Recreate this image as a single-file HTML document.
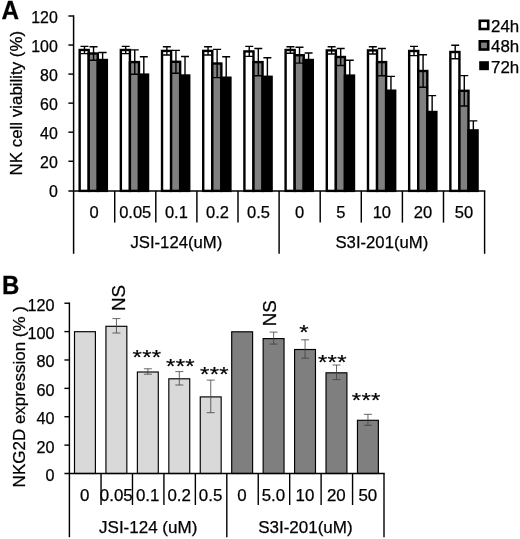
<!DOCTYPE html>
<html lang="en">
<head>
<meta charset="utf-8">
<title>Figure</title>
<style>
html,body{margin:0;padding:0;background:#fff;}
body{width:520px;height:539px;overflow:hidden;}
svg{display:block;}
svg text{font-family:"Liberation Sans", Arial, Helvetica, sans-serif;fill:#000;stroke:#000;stroke-width:0.25px;}
</style>
</head>
<body>
<svg width="520" height="539" viewBox="0 0 520 539">
<rect width="520" height="539" fill="#fff"/>
<g id="chartA">
<rect x="79.65" y="50.00" width="9.07" height="140.90" fill="#fff" stroke="#000" stroke-width="2.4"/>
<rect x="88.72" y="53.50" width="9.07" height="137.40" fill="#808080" stroke="#000" stroke-width="2.4"/>
<rect x="97.79" y="60.00" width="9.07" height="130.90" fill="#000" stroke="#000" stroke-width="2.4"/>
<path d="M84.48 46.40V53.60M80.48 46.40h8M80.48 53.60h8" stroke="#000" stroke-width="1.4" fill="none"/>
<path d="M93.55 46.80V60.20M89.55 46.80h8M89.55 60.20h8" stroke="#000" stroke-width="1.4" fill="none"/>
<path d="M102.62 52.50V67.50M98.62 52.50h8M98.62 67.50h8" stroke="#000" stroke-width="1.4" fill="none"/>
<rect x="120.84" y="50.00" width="9.07" height="140.90" fill="#fff" stroke="#000" stroke-width="2.4"/>
<rect x="129.91" y="62.10" width="9.07" height="128.80" fill="#808080" stroke="#000" stroke-width="2.4"/>
<rect x="138.98" y="74.60" width="9.07" height="116.30" fill="#000" stroke="#000" stroke-width="2.4"/>
<path d="M125.67 46.40V53.60M121.67 46.40h8M121.67 53.60h8" stroke="#000" stroke-width="1.4" fill="none"/>
<path d="M134.75 49.90V74.30M130.75 49.90h8M130.75 74.30h8" stroke="#000" stroke-width="1.4" fill="none"/>
<path d="M143.82 56.80V92.40M139.82 56.80h8M139.82 92.40h8" stroke="#000" stroke-width="1.4" fill="none"/>
<rect x="162.03" y="50.90" width="9.07" height="140.00" fill="#fff" stroke="#000" stroke-width="2.4"/>
<rect x="171.10" y="61.80" width="9.07" height="129.10" fill="#808080" stroke="#000" stroke-width="2.4"/>
<rect x="180.17" y="75.50" width="9.07" height="115.40" fill="#000" stroke="#000" stroke-width="2.4"/>
<path d="M166.87 46.80V55.00M162.87 46.80h8M162.87 55.00h8" stroke="#000" stroke-width="1.4" fill="none"/>
<path d="M175.94 50.40V73.20M171.94 50.40h8M171.94 73.20h8" stroke="#000" stroke-width="1.4" fill="none"/>
<path d="M185.01 56.50V94.50M181.01 56.50h8M181.01 94.50h8" stroke="#000" stroke-width="1.4" fill="none"/>
<rect x="203.22" y="50.90" width="9.07" height="140.00" fill="#fff" stroke="#000" stroke-width="2.4"/>
<rect x="212.29" y="63.50" width="9.07" height="127.40" fill="#808080" stroke="#000" stroke-width="2.4"/>
<rect x="221.36" y="77.70" width="9.07" height="113.20" fill="#000" stroke="#000" stroke-width="2.4"/>
<path d="M208.06 46.80V55.00M204.06 46.80h8M204.06 55.00h8" stroke="#000" stroke-width="1.4" fill="none"/>
<path d="M217.12 49.40V77.60M213.12 49.40h8M213.12 77.60h8" stroke="#000" stroke-width="1.4" fill="none"/>
<path d="M226.20 56.80V98.60M222.20 56.80h8M222.20 98.60h8" stroke="#000" stroke-width="1.4" fill="none"/>
<rect x="244.41" y="51.40" width="9.07" height="139.50" fill="#fff" stroke="#000" stroke-width="2.4"/>
<rect x="253.48" y="62.10" width="9.07" height="128.80" fill="#808080" stroke="#000" stroke-width="2.4"/>
<rect x="262.55" y="76.80" width="9.07" height="114.10" fill="#000" stroke="#000" stroke-width="2.4"/>
<path d="M249.25 46.40V56.40M245.25 46.40h8M245.25 56.40h8" stroke="#000" stroke-width="1.4" fill="none"/>
<path d="M258.31 48.50V75.70M254.31 48.50h8M254.31 75.70h8" stroke="#000" stroke-width="1.4" fill="none"/>
<path d="M267.39 57.70V95.90M263.39 57.70h8M263.39 95.90h8" stroke="#000" stroke-width="1.4" fill="none"/>
<rect x="285.60" y="50.00" width="9.07" height="140.90" fill="#fff" stroke="#000" stroke-width="2.4"/>
<rect x="294.67" y="55.20" width="9.07" height="135.70" fill="#808080" stroke="#000" stroke-width="2.4"/>
<rect x="303.74" y="60.00" width="9.07" height="130.90" fill="#000" stroke="#000" stroke-width="2.4"/>
<path d="M290.44 46.80V53.20M286.44 46.80h8M286.44 53.20h8" stroke="#000" stroke-width="1.4" fill="none"/>
<path d="M299.51 47.30V63.10M295.51 47.30h8M295.51 63.10h8" stroke="#000" stroke-width="1.4" fill="none"/>
<path d="M308.58 53.00V67.00M304.58 53.00h8M304.58 67.00h8" stroke="#000" stroke-width="1.4" fill="none"/>
<rect x="326.79" y="50.40" width="9.07" height="140.50" fill="#fff" stroke="#000" stroke-width="2.4"/>
<rect x="335.86" y="57.00" width="9.07" height="133.90" fill="#808080" stroke="#000" stroke-width="2.4"/>
<rect x="344.93" y="75.60" width="9.07" height="115.30" fill="#000" stroke="#000" stroke-width="2.4"/>
<path d="M331.62 46.80V54.00M327.62 46.80h8M327.62 54.00h8" stroke="#000" stroke-width="1.4" fill="none"/>
<path d="M340.69 48.50V65.50M336.69 48.50h8M336.69 65.50h8" stroke="#000" stroke-width="1.4" fill="none"/>
<path d="M349.76 60.30V90.90M345.76 60.30h8M345.76 90.90h8" stroke="#000" stroke-width="1.4" fill="none"/>
<rect x="367.98" y="50.40" width="9.07" height="140.50" fill="#fff" stroke="#000" stroke-width="2.4"/>
<rect x="377.05" y="62.10" width="9.07" height="128.80" fill="#808080" stroke="#000" stroke-width="2.4"/>
<rect x="386.12" y="90.70" width="9.07" height="100.20" fill="#000" stroke="#000" stroke-width="2.4"/>
<path d="M372.82 46.80V54.00M368.82 46.80h8M368.82 54.00h8" stroke="#000" stroke-width="1.4" fill="none"/>
<path d="M381.89 48.50V75.70M377.89 48.50h8M377.89 75.70h8" stroke="#000" stroke-width="1.4" fill="none"/>
<path d="M390.96 76.40V105.00M386.96 76.40h8M386.96 105.00h8" stroke="#000" stroke-width="1.4" fill="none"/>
<rect x="409.17" y="51.00" width="9.07" height="139.90" fill="#fff" stroke="#000" stroke-width="2.4"/>
<rect x="418.24" y="71.00" width="9.07" height="119.90" fill="#808080" stroke="#000" stroke-width="2.4"/>
<rect x="427.31" y="112.00" width="9.07" height="78.90" fill="#000" stroke="#000" stroke-width="2.4"/>
<path d="M414.00 46.40V55.60M410.00 46.40h8M410.00 55.60h8" stroke="#000" stroke-width="1.4" fill="none"/>
<path d="M423.07 54.70V87.30M419.07 54.70h8M419.07 87.30h8" stroke="#000" stroke-width="1.4" fill="none"/>
<path d="M432.14 95.60V128.40M428.14 95.60h8M428.14 128.40h8" stroke="#000" stroke-width="1.4" fill="none"/>
<rect x="450.36" y="52.00" width="9.07" height="138.90" fill="#fff" stroke="#000" stroke-width="2.4"/>
<rect x="459.43" y="90.80" width="9.07" height="100.10" fill="#808080" stroke="#000" stroke-width="2.4"/>
<rect x="468.50" y="130.40" width="9.07" height="60.50" fill="#000" stroke="#000" stroke-width="2.4"/>
<path d="M455.20 45.20V58.80M451.20 45.20h8M451.20 58.80h8" stroke="#000" stroke-width="1.4" fill="none"/>
<path d="M464.27 75.60V106.00M460.27 75.60h8M460.27 106.00h8" stroke="#000" stroke-width="1.4" fill="none"/>
<path d="M473.34 120.90V139.90M469.34 120.90h8M469.34 139.90h8" stroke="#000" stroke-width="1.4" fill="none"/>
<path d="M73.6 15.3V253.8" stroke="#000" stroke-width="1.5" fill="none"/>
<path d="M68.4 190.9H485.3" stroke="#000" stroke-width="1.5" fill="none"/>
<path d="M68.4 16.00H73.6" stroke="#000" stroke-width="1.45" fill="none"/>
<path d="M68.4 45.05H73.6" stroke="#000" stroke-width="1.45" fill="none"/>
<path d="M68.4 74.10H73.6" stroke="#000" stroke-width="1.45" fill="none"/>
<path d="M68.4 103.15H73.6" stroke="#000" stroke-width="1.45" fill="none"/>
<path d="M68.4 132.20H73.6" stroke="#000" stroke-width="1.45" fill="none"/>
<path d="M68.4 161.25H73.6" stroke="#000" stroke-width="1.45" fill="none"/>
<text x="57.8" y="22.70" text-anchor="end" font-size="15.9">120</text>
<text x="57.8" y="51.75" text-anchor="end" font-size="15.9">100</text>
<text x="57.8" y="80.80" text-anchor="end" font-size="15.9">80</text>
<text x="57.8" y="109.85" text-anchor="end" font-size="15.9">60</text>
<text x="57.8" y="138.90" text-anchor="end" font-size="15.9">40</text>
<text x="57.8" y="167.95" text-anchor="end" font-size="15.9">20</text>
<text x="57.8" y="197.00" text-anchor="end" font-size="15.9">0</text>
<path d="M114.70 190.9V222.6" stroke="#000" stroke-width="1.45" fill="none"/>
<path d="M155.80 190.9V222.6" stroke="#000" stroke-width="1.45" fill="none"/>
<path d="M196.90 190.9V222.6" stroke="#000" stroke-width="1.45" fill="none"/>
<path d="M238.00 190.9V222.6" stroke="#000" stroke-width="1.45" fill="none"/>
<path d="M279.10 190.9V253.8" stroke="#000" stroke-width="1.45" fill="none"/>
<path d="M320.20 190.9V222.6" stroke="#000" stroke-width="1.45" fill="none"/>
<path d="M361.30 190.9V222.6" stroke="#000" stroke-width="1.45" fill="none"/>
<path d="M402.40 190.9V222.6" stroke="#000" stroke-width="1.45" fill="none"/>
<path d="M443.50 190.9V222.6" stroke="#000" stroke-width="1.45" fill="none"/>
<path d="M484.60 190.9V253.8" stroke="#000" stroke-width="1.45" fill="none"/>
<text x="94.15" y="218.4" text-anchor="middle" font-size="16.5">0</text>
<text x="135.25" y="218.4" text-anchor="middle" font-size="16.5">0.05</text>
<text x="176.35" y="218.4" text-anchor="middle" font-size="16.5">0.1</text>
<text x="217.45" y="218.4" text-anchor="middle" font-size="16.5">0.2</text>
<text x="258.55" y="218.4" text-anchor="middle" font-size="16.5">0.5</text>
<text x="299.65" y="218.4" text-anchor="middle" font-size="16.5">0</text>
<text x="340.75" y="218.4" text-anchor="middle" font-size="16.5">5</text>
<text x="381.85" y="218.4" text-anchor="middle" font-size="16.5">10</text>
<text x="422.95" y="218.4" text-anchor="middle" font-size="16.5">20</text>
<text x="464.05" y="218.4" text-anchor="middle" font-size="16.5">50</text>
<text x="176.35" y="248" text-anchor="middle" font-size="16.7">JSI-124(uM)</text>
<text x="381.85" y="248" text-anchor="middle" font-size="16.7">S3I-201(uM)</text>
<text transform="translate(22.4 175.4) rotate(-90)" font-size="16.9">NK cell viability (%)</text>
<text transform="translate(1.45 19.1) scale(1 1.035)" font-size="24.3" font-weight="bold">A</text>
<rect x="479.8" y="20.80" width="8.4" height="8.2" fill="#fff" stroke="#000" stroke-width="2.6"/>
<text x="491" y="31.50" font-size="16.9">24h</text>
<rect x="479.8" y="41.30" width="8.4" height="8.2" fill="#808080" stroke="#000" stroke-width="2.6"/>
<text x="491" y="52.00" font-size="16.9">48h</text>
<rect x="479.2" y="61.20" width="9.7" height="9" fill="#000"/>
<text x="491" y="72.50" font-size="16.9">72h</text>
</g>
<g id="chartB">
<rect x="74.50" y="331.70" width="20.9" height="141.80" fill="#d9d9d9" stroke="#000" stroke-width="1.15"/>
<rect x="105.94" y="326.30" width="20.9" height="147.20" fill="#d9d9d9" stroke="#000" stroke-width="1.15"/>
<path d="M116.44 318.60V333.00M112.44 318.60h8M112.44 333.00h8" stroke="#404040" stroke-width="0.8" fill="none"/>
<text transform="translate(125.3 311) rotate(-90)" font-size="18.8">NS</text>
<rect x="137.38" y="372.00" width="20.9" height="101.50" fill="#d9d9d9" stroke="#000" stroke-width="1.15"/>
<path d="M147.88 368.80V374.20M143.88 368.80h8M143.88 374.20h8" stroke="#404040" stroke-width="0.8" fill="none"/>
<text transform="translate(147 364.30) scale(1 0.84)" text-anchor="middle" font-size="24" letter-spacing="0.25">***</text>
<rect x="168.82" y="378.80" width="20.9" height="94.70" fill="#d9d9d9" stroke="#000" stroke-width="1.15"/>
<path d="M179.32 371.60V385.00M175.32 371.60h8M175.32 385.00h8" stroke="#404040" stroke-width="0.8" fill="none"/>
<text transform="translate(180.5 373.30) scale(1 0.84)" text-anchor="middle" font-size="24" letter-spacing="0.25">***</text>
<rect x="200.26" y="396.90" width="20.9" height="76.60" fill="#d9d9d9" stroke="#000" stroke-width="1.15"/>
<path d="M210.76 380.10V412.70M206.76 380.10h8M206.76 412.70h8" stroke="#404040" stroke-width="0.8" fill="none"/>
<text transform="translate(214.5 381.30) scale(1 0.84)" text-anchor="middle" font-size="24" letter-spacing="0.25">***</text>
<rect x="231.70" y="331.80" width="20.9" height="141.70" fill="#7f7f7f" stroke="#000" stroke-width="1.15"/>
<rect x="263.14" y="338.60" width="20.9" height="134.90" fill="#7f7f7f" stroke="#000" stroke-width="1.15"/>
<path d="M273.64 332.10V344.10M269.64 332.10h8M269.64 344.10h8" stroke="#404040" stroke-width="0.8" fill="none"/>
<text transform="translate(276.2 326.2) rotate(-90)" font-size="18.8">NS</text>
<rect x="294.58" y="349.50" width="20.9" height="124.00" fill="#7f7f7f" stroke="#000" stroke-width="1.15"/>
<path d="M305.08 339.80V358.20M301.08 339.80h8M301.08 358.20h8" stroke="#404040" stroke-width="0.8" fill="none"/>
<text transform="translate(304.1 339.30) scale(1 0.84)" text-anchor="middle" font-size="24" letter-spacing="0.25">*</text>
<rect x="326.02" y="372.80" width="20.9" height="100.70" fill="#7f7f7f" stroke="#000" stroke-width="1.15"/>
<path d="M336.52 365.00V379.60M332.52 365.00h8M332.52 379.60h8" stroke="#404040" stroke-width="0.8" fill="none"/>
<text transform="translate(332.4 369.30) scale(1 0.84)" text-anchor="middle" font-size="24" letter-spacing="0.25">***</text>
<rect x="357.46" y="420.30" width="20.9" height="53.20" fill="#7f7f7f" stroke="#000" stroke-width="1.15"/>
<path d="M367.96 414.30V425.30M363.96 414.30h8M363.96 425.30h8" stroke="#404040" stroke-width="0.8" fill="none"/>
<text transform="translate(366.2 407.10) scale(1 0.84)" text-anchor="middle" font-size="24" letter-spacing="0.25">***</text>
<path d="M69.4 302.52V537.2" stroke="#000" stroke-width="1.45" fill="none"/>
<path d="M64.4 473.5H384.7" stroke="#000" stroke-width="1.45" fill="none"/>
<path d="M64.4 303.22H69.4" stroke="#000" stroke-width="1.4" fill="none"/>
<path d="M64.4 331.60H69.4" stroke="#000" stroke-width="1.4" fill="none"/>
<path d="M64.4 359.98H69.4" stroke="#000" stroke-width="1.4" fill="none"/>
<path d="M64.4 388.36H69.4" stroke="#000" stroke-width="1.4" fill="none"/>
<path d="M64.4 416.74H69.4" stroke="#000" stroke-width="1.4" fill="none"/>
<path d="M64.4 445.12H69.4" stroke="#000" stroke-width="1.4" fill="none"/>
<text x="54.6" y="310.62" text-anchor="end" font-size="16.2">120</text>
<text x="54.6" y="339.00" text-anchor="end" font-size="16.2">100</text>
<text x="54.6" y="367.38" text-anchor="end" font-size="16.2">80</text>
<text x="54.6" y="395.76" text-anchor="end" font-size="16.2">60</text>
<text x="54.6" y="424.14" text-anchor="end" font-size="16.2">40</text>
<text x="54.6" y="452.52" text-anchor="end" font-size="16.2">20</text>
<text x="54.6" y="480.90" text-anchor="end" font-size="16.2">0</text>
<path d="M101.04 473.5V505" stroke="#000" stroke-width="1.4" fill="none"/>
<path d="M132.48 473.5V505" stroke="#000" stroke-width="1.4" fill="none"/>
<path d="M163.92 473.5V505" stroke="#000" stroke-width="1.4" fill="none"/>
<path d="M195.36 473.5V505" stroke="#000" stroke-width="1.4" fill="none"/>
<path d="M226.80 473.5V537.2" stroke="#000" stroke-width="1.4" fill="none"/>
<path d="M258.24 473.5V505" stroke="#000" stroke-width="1.4" fill="none"/>
<path d="M289.68 473.5V505" stroke="#000" stroke-width="1.4" fill="none"/>
<path d="M321.12 473.5V505" stroke="#000" stroke-width="1.4" fill="none"/>
<path d="M352.56 473.5V505" stroke="#000" stroke-width="1.4" fill="none"/>
<path d="M384.00 473.5V537.2" stroke="#000" stroke-width="1.4" fill="none"/>
<text x="84.82" y="500.5" text-anchor="middle" font-size="16.9">0</text>
<text x="116.26" y="500.5" text-anchor="middle" font-size="16.9">0.05</text>
<text x="147.70" y="500.5" text-anchor="middle" font-size="16.9">0.1</text>
<text x="179.14" y="500.5" text-anchor="middle" font-size="16.9">0.2</text>
<text x="210.58" y="500.5" text-anchor="middle" font-size="16.9">0.5</text>
<text x="242.02" y="500.5" text-anchor="middle" font-size="16.9">0</text>
<text x="273.46" y="500.5" text-anchor="middle" font-size="16.9">5.0</text>
<text x="304.90" y="500.5" text-anchor="middle" font-size="16.9">10</text>
<text x="336.34" y="500.5" text-anchor="middle" font-size="16.9">20</text>
<text x="367.78" y="500.5" text-anchor="middle" font-size="16.9">50</text>
<text x="148.20" y="532.5" text-anchor="middle" font-size="17">JSI-124 (uM)</text>
<text x="305.40" y="532.5" text-anchor="middle" font-size="17">S3I-201(uM)</text>
<text transform="translate(24.5 487.4) rotate(-90)" font-size="17">NKG2D expression (% )</text>
<text transform="translate(2 293.7) scale(1 1.04)" font-size="24" font-weight="bold">B</text>
</g>
</svg>
</body>
</html>
